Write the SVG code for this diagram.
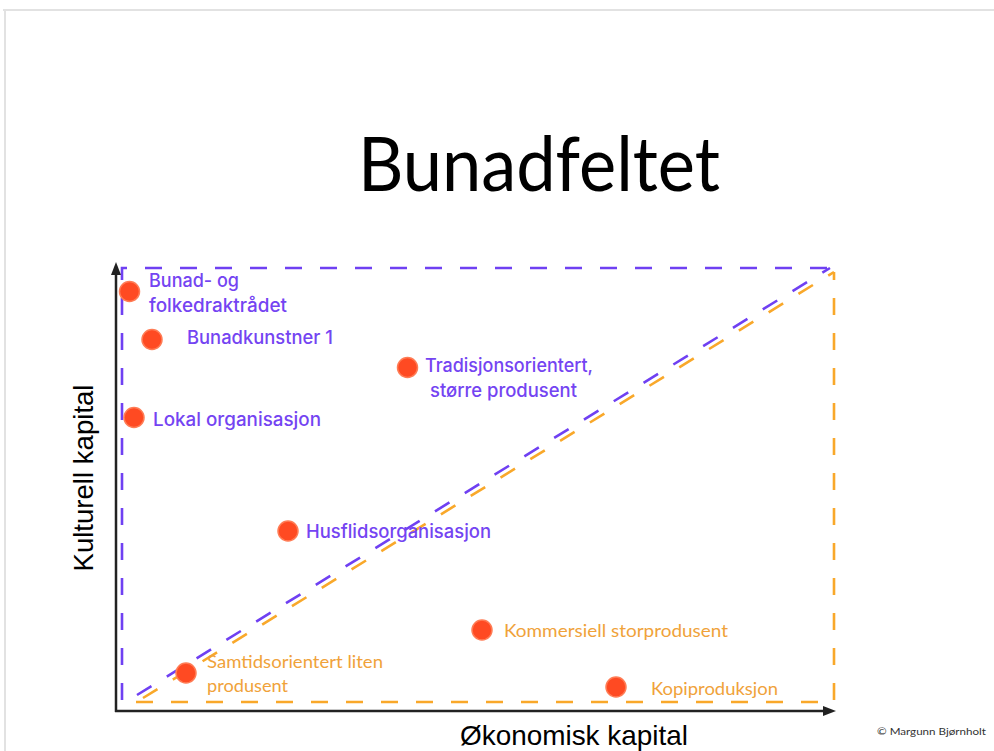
<svg xmlns="http://www.w3.org/2000/svg" width="994" height="751" viewBox="0 0 994 751">
<style>
.title{font-family:Lato,"Open Sans",sans-serif;font-size:75px;fill:#000}
.axl{font-family:"Liberation Sans",Arial,sans-serif;font-size:28px;fill:#000}
.pl{font-family:Inter,"DejaVu Sans",sans-serif;font-size:18.5px;fill:#7444f2;font-weight:500}
.ol{font-family:Lato,"Open Sans",sans-serif;font-size:17px;fill:#f0a23a}
.dot{fill:#ff4a22;stroke:#ff7c55;stroke-width:1.5}
.pd{fill:none;stroke:#6f40f2;stroke-width:2.6;stroke-dasharray:17 18}
.od{fill:none;stroke:#f9a82a;stroke-width:2.6;stroke-dasharray:17 18}
.ax{stroke:#222;stroke-width:2.5;fill:none}
</style>
<rect width="994" height="751" fill="#fff"/>
<path d="M3,10 H994 M5,10 V751" stroke="#e2e2e2" stroke-width="2" fill="none"/>
<text class="title" x="358" y="191" textLength="362" lengthAdjust="spacingAndGlyphs">Bunadfeltet</text>
<g id="connectors">
<path class="pd" d="M122,700 V268 H830"/>
<path class="pd" d="M137,695 L830,268"/>
<path class="od" d="M136,702 H834 V272"/>
<path class="od" d="M143,698 L834,272"/>
<path class="ax" d="M116,712 V272"/>
<polygon points="116,262 111,275 121,275" fill="#222"/>
<path class="ax" d="M115,711 H826"/>
<polygon points="836,711 823,706 823,716" fill="#222"/>
</g>
<text class="axl" x="460" y="745" textLength="228" lengthAdjust="spacingAndGlyphs">Økonomisk kapital</text>
<text class="axl" transform="translate(93,478) rotate(-90)" text-anchor="middle" textLength="187" lengthAdjust="spacingAndGlyphs">Kulturell kapital</text>
<g id="n1"><circle class="dot" cx="129.5" cy="291.5" r="10"/><text class="pl" x="149" y="287" textLength="90" lengthAdjust="spacingAndGlyphs">Bunad- og</text><text class="pl" x="149" y="312" textLength="138" lengthAdjust="spacingAndGlyphs">folkedraktrådet</text></g>
<g id="n2"><circle class="dot" cx="152" cy="339.5" r="10"/><text class="pl" x="187" y="344" textLength="146" lengthAdjust="spacingAndGlyphs">Bunadkunstner 1</text></g>
<g id="n3"><circle class="dot" cx="407.5" cy="367.5" r="10"/><text class="pl" x="425" y="372" textLength="168" lengthAdjust="spacingAndGlyphs">Tradisjonsorientert,</text><text class="pl" x="430" y="397" textLength="147" lengthAdjust="spacingAndGlyphs">større produsent</text></g>
<g id="n4"><circle class="dot" cx="134" cy="417.5" r="10"/><text class="pl" x="153" y="426" textLength="168" lengthAdjust="spacingAndGlyphs">Lokal organisasjon</text></g>
<g id="n5"><circle class="dot" cx="288" cy="531" r="10"/><text class="pl" x="306" y="538" textLength="185" lengthAdjust="spacingAndGlyphs">Husflidsorganisasjon</text></g>
<g id="n6"><circle class="dot" cx="482" cy="630" r="10"/><text class="ol" x="504" y="637" textLength="224" lengthAdjust="spacingAndGlyphs">Kommersiell storprodusent</text></g>
<g id="n7"><circle class="dot" cx="186" cy="673" r="10"/><text class="ol" x="207" y="668" textLength="176" lengthAdjust="spacingAndGlyphs">Samtidsorientert liten</text><text class="ol" x="207" y="692" textLength="81" lengthAdjust="spacingAndGlyphs">produsent</text></g>
<g id="n8"><circle class="dot" cx="616" cy="687" r="10"/><text class="ol" x="651" y="695" textLength="127" lengthAdjust="spacingAndGlyphs">Kopiproduksjon</text></g>
<text x="877" y="735" font-family="Lato,'Open Sans',sans-serif" font-size="10" fill="#333" textLength="109" lengthAdjust="spacingAndGlyphs">© Margunn Bjørnholt</text>
</svg>
